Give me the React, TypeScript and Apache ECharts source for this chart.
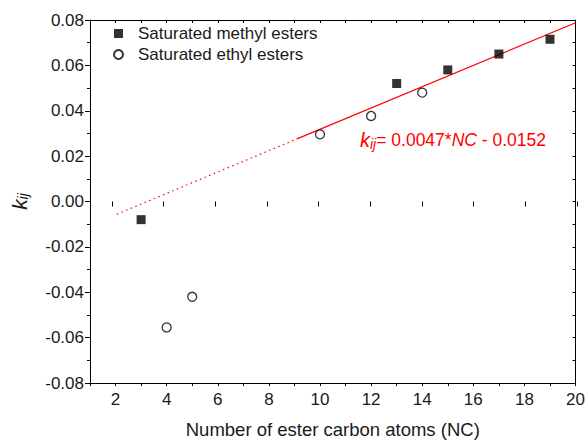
import React, { useEffect, useRef } from "react";
import * as echarts from "echarts";

const methylNC = [3, 13, 15, 17, 19];
const methylK = [-0.008, 0.052, 0.058, 0.065, 0.0715];
const ethylNC = [4, 5, 10, 12, 14];
const ethylK = [-0.0555, -0.042, 0.0296, 0.0377, 0.048];
const fitSolidNC = [9.1, 20];
const fitSolidK = [0.0276, 0.0788];
const fitDottedNC = [2.05, 9.1];
const fitDottedK = [-0.0056, 0.0276];
const xMajorTicks = [2, 4, 6, 8, 10, 12, 14, 16, 18, 20];
const equationText = "= 0.0047*";
const equationTail = " - 0.0152";

const FONT = "Liberation Sans, Arial, sans-serif";
const TXT = "#1a1a1a";

const zip = (a: number[], b: number[]) => a.map((v, i) => [v, b[i]]);

export default function App() {
  const ref = useRef<HTMLDivElement>(null);
  useEffect(() => {
    if (!ref.current) return;
    const chart = echarts.init(ref.current, undefined, { renderer: "svg" });
    const grid = { left: 86, right: 11, top: 20, bottom: 61 };
    chart.setOption({
      animation: false,
      backgroundColor: "#fff",
      textStyle: { fontFamily: FONT },
      grid: [grid, { ...grid }],
      legend: {
        orient: "vertical",
        left: 108,
        top: 20,
        itemWidth: 9,
        itemHeight: 9,
        itemGap: 4,
        textStyle: { fontSize: 17, color: TXT, fontFamily: FONT, padding: [0, 0, 0, 10] },
        data: ["Saturated methyl esters", "Saturated ethyl esters"],
      },
      xAxis: [
        {
          type: "value",
          gridIndex: 0,
          position: "bottom",
          min: 1,
          max: 20,
          interval: 1,
          name: "Number of ester carbon atoms (NC)",
          nameLocation: "middle",
          nameGap: 37,
          nameTextStyle: { fontSize: 18.5, color: TXT, fontFamily: FONT },
          axisLine: { show: true, onZero: false, lineStyle: { color: "#000", width: 1 } },
          axisTick: { show: true, inside: false, length: 3, lineStyle: { color: "#000" } },
          axisLabel: {
            fontSize: 17,
            color: TXT,
            margin: 8,
            formatter: (v: number) => (v % 2 === 0 ? String(v) : ""),
          },
          splitLine: { show: false },
        },
        {
          type: "value",
          gridIndex: 0,
          position: "top",
          min: 1,
          max: 20,
          interval: 1,
          axisLine: { show: true, onZero: false, lineStyle: { color: "#000", width: 1 } },
          axisTick: { show: true, inside: true, length: 3, lineStyle: { color: "#000" } },
          axisLabel: { show: false },
          splitLine: { show: false },
        },
        {
          type: "value",
          gridIndex: 1,
          position: "bottom",
          min: 1,
          max: 20,
          axisLine: { show: false },
          axisTick: {
            show: true,
            inside: false,
            length: 5,
            customValues: xMajorTicks,
            lineStyle: { color: "#000" },
          },
          axisLabel: { show: false, customValues: xMajorTicks },
          splitLine: { show: false },
        },
      ],
      yAxis: [
        {
          type: "value",
          gridIndex: 0,
          position: "left",
          min: -0.08,
          max: 0.08,
          interval: 0.02,
          name: "{k|k}{s|ij}",
          nameLocation: "middle",
          nameRotate: 90,
          nameGap: 60,
          nameTextStyle: {
            rich: {
              k: { fontSize: 21, fontStyle: "italic", color: TXT, fontFamily: FONT, lineHeight: 22 },
              s: {
                fontSize: 14,
                fontStyle: "italic",
                color: TXT,
                fontFamily: FONT,
                verticalAlign: "bottom",
                lineHeight: 22,
                padding: [8, 0, 0, 0],
              },
            },
          },
          axisLine: { show: true, onZero: false, lineStyle: { color: "#000", width: 1 } },
          axisTick: { show: true, inside: false, length: 5, lineStyle: { color: "#000" } },
          minorTick: { show: true, splitNumber: 2, length: 3, lineStyle: { color: "#000" } },
          axisLabel: {
            fontSize: 17,
            color: TXT,
            margin: 6,
            formatter: (v: number) => v.toFixed(2),
          },
          splitLine: { show: false },
          minorSplitLine: { show: false },
        },
        {
          type: "value",
          gridIndex: 0,
          position: "right",
          min: -0.08,
          max: 0.08,
          interval: 0.01,
          axisLine: { show: true, onZero: false, lineStyle: { color: "#000", width: 1 } },
          axisTick: { show: true, inside: true, length: 3, lineStyle: { color: "#000" } },
          axisLabel: { show: false },
          splitLine: { show: false },
        },
        {
          type: "value",
          gridIndex: 1,
          min: -0.08,
          max: 0.08,
          interval: 0.02,
          show: false,
        },
      ],
      series: [
        {
          name: "fitDotted",
          type: "line",
          xAxisIndex: 0,
          yAxisIndex: 0,
          data: zip(fitDottedNC, fitDottedK),
          showSymbol: false,
          symbol: "none",
          lineStyle: { color: "#ff0000", width: 1.2, type: [1.5, 3.5] },
          silent: true,
          z: 1,
        },
        {
          name: "fitSolid",
          type: "line",
          xAxisIndex: 0,
          yAxisIndex: 0,
          data: zip(fitSolidNC, fitSolidK),
          showSymbol: false,
          symbol: "none",
          lineStyle: { color: "#ff0000", width: 1.2 },
          silent: true,
          z: 1,
        },
        {
          name: "Saturated methyl esters",
          type: "scatter",
          xAxisIndex: 0,
          yAxisIndex: 0,
          data: zip(methylNC, methylK),
          symbol: "rect",
          symbolSize: 9,
          itemStyle: { color: "#000" },
          z: 3,
        },
        {
          name: "Saturated ethyl esters",
          type: "scatter",
          xAxisIndex: 0,
          yAxisIndex: 0,
          data: zip(ethylNC, ethylK),
          symbol: "circle",
          symbolSize: 9,
          itemStyle: { color: "#fff", borderColor: "#000", borderWidth: 1.3 },
          z: 3,
        },
      ],
      graphic: [
        {
          type: "text",
          left: 360,
          top: 129,
          style: {
            text: `{k|k}{s|ij}{n|${equationText}}{i|NC}{n|${equationTail}}`,
            rich: {
              k: { fontSize: 20, fontStyle: "italic", fill: "#ff0000", fontFamily: FONT, lineHeight: 22 },
              s: {
                fontSize: 14,
                fontStyle: "italic",
                fill: "#ff0000",
                fontFamily: FONT,
                verticalAlign: "bottom",
                lineHeight: 22,
                padding: [8, 0, 0, 0],
              },
              n: { fontSize: 17.5, fill: "#ff0000", fontFamily: FONT, lineHeight: 22 },
              i: { fontSize: 17.5, fontStyle: "italic", fill: "#ff0000", fontFamily: FONT, lineHeight: 22 },
            },
          },
        },
      ],
    });
    return () => chart.dispose();
  }, []);
  return <div ref={ref} style={{ width: 588, height: 444, position: "absolute", left: 0, top: 0 }} />;
}
